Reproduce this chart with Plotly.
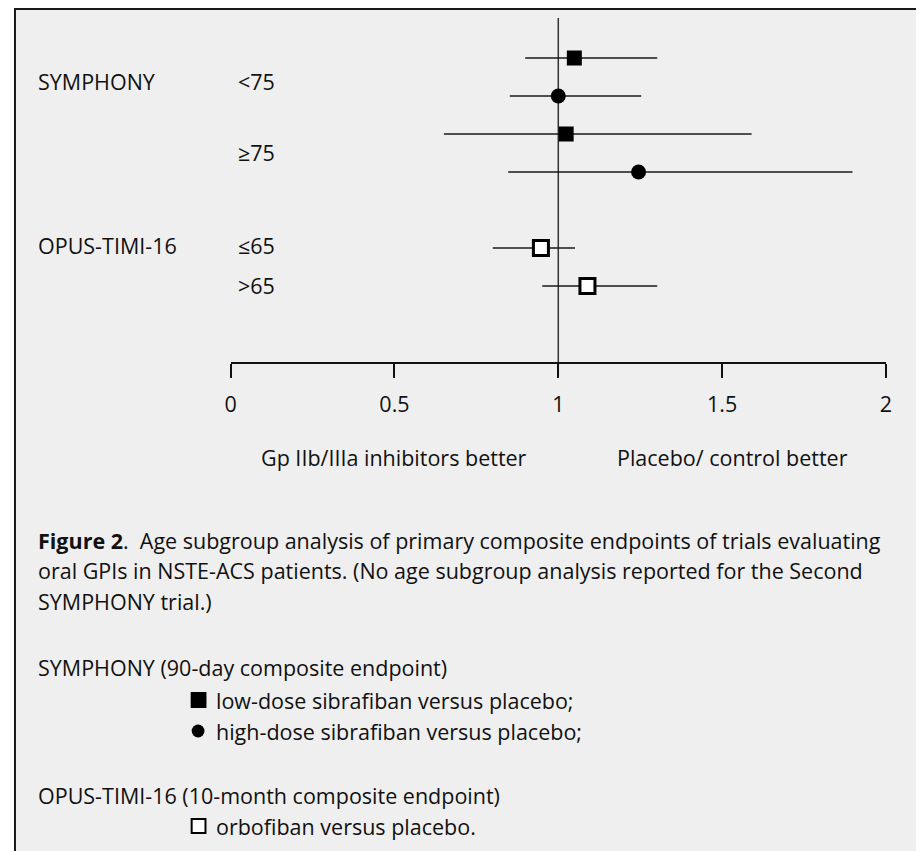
import plotly.graph_objects as go

W, H = 924, 851

# ---- data ----
low_or = [1.049, 1.024]
low_lo = [0.899, 0.651]
low_hi = [1.302, 1.59]
low_rows = [0, 2]

high_or = [1.0, 1.245]
high_lo = [0.852, 0.847]
high_hi = [1.253, 1.898]
high_rows = [1, 3]

orbo_or = [0.947, 1.089]
orbo_lo = [0.80, 0.951]
orbo_hi = [1.051, 1.302]
orbo_rows = [5, 6]

tick_vals = [0, 0.5, 1, 1.5, 2]
tick_text = ["0", "0.5", "1", "1.5", "2"]

FONT = "Open Sans"
FS = 21.5
TXT = "#111111"
OFF = 8  # page body margin


def px(x):
    return (x - OFF) / W


def py(y):
    return 1 - (y - OFF) / H


def err(vals, lo, hi):
    plus = [h - v for v, h in zip(vals, hi)]
    minus = [v - l for v, l in zip(vals, lo)]
    return dict(type="data", symmetric=False, array=plus, arrayminus=minus,
                color="#1a1a1a", thickness=1.5, width=0)


fig = go.Figure()
fig.add_trace(go.Scatter(x=low_or, y=low_rows, mode="markers",
                         marker=dict(symbol="square", size=15, color="black"),
                         error_x=err(low_or, low_lo, low_hi), showlegend=False))
fig.add_trace(go.Scatter(x=high_or, y=high_rows, mode="markers",
                         marker=dict(symbol="circle", size=15, color="black"),
                         error_x=err(high_or, high_lo, high_hi), showlegend=False))
fig.add_trace(go.Scatter(x=orbo_or, y=orbo_rows, mode="markers",
                         marker=dict(symbol="square", size=15, color="white",
                                     line=dict(color="black", width=3)),
                         error_x=err(orbo_or, orbo_lo, orbo_hi), showlegend=False))

shapes = [
    # panel background with border (top and left)
    dict(type="rect", xref="paper", yref="paper",
         x0=px(9), x1=px(960), y0=py(900), y1=py(9),
         fillcolor="#efefef", line=dict(color="#1a1a1a", width=2), layer="below"),
    # reference line at 1
    dict(type="line", xref="x", yref="paper", x0=1, x1=1,
         y0=py(376), y1=py(18), line=dict(color="#333333", width=1.5), layer="below"),
    # legend keys in caption
    dict(type="rect", xref="paper", yref="paper", x0=px(187), x1=px(203),
         y0=py(708), y1=py(692), fillcolor="black", line=dict(width=0)),
    dict(type="circle", xref="paper", yref="paper", x0=px(188), x1=px(201),
         y0=py(737.5), y1=py(724.5), fillcolor="black", line=dict(width=0)),
    dict(type="rect", xref="paper", yref="paper", x0=px(188), x1=px(202),
         y0=py(833), y1=py(819), fillcolor="white", line=dict(color="black", width=2)),
]

annotations = []


def ann(text, x, y, xanchor="left"):
    annotations.append(dict(text=text, x=px(x), y=py(y), xref="paper", yref="paper",
                            xanchor=xanchor, yanchor="middle", showarrow=False,
                            font=dict(family=FONT, size=FS, color=TXT)))


ann("SYMPHONY", 30, 82)
ann("&lt;75", 233, 82)
ann("\u226575", 233, 152)
ann("OPUS-TIMI-16", 30, 245)
ann("\u226465", 233, 245)
ann("&gt;65", 233, 285)

ann("Gp IIb/IIIa inhibitors better", 393, 457, "center")
ann("Placebo/ control better", 735.5, 457, "center")

ann("<b>Figure 2</b>.  Age subgroup analysis of primary composite endpoints of trials evaluating", 30, 540)
ann("oral GPIs in NSTE-ACS patients. (No age subgroup analysis reported for the Second", 30, 570)
ann("SYMPHONY trial.)", 30, 601)
ann("SYMPHONY (90-day composite endpoint)", 30, 667)
ann("low-dose sibrafiban versus placebo;", 211, 700)
ann("high-dose sibrafiban versus placebo;", 211, 731)
ann("OPUS-TIMI-16 (10-month composite endpoint)", 30, 795)
ann("orbofiban versus placebo.", 211, 826)

fig.update_layout(
    width=W, height=H,
    margin=dict(l=0, r=0, t=0, b=0),
    paper_bgcolor="white",
    plot_bgcolor="rgba(0,0,0,0)",
    shapes=shapes,
    annotations=annotations,
    xaxis=dict(domain=[px(227.5), px(891.4)], range=[0, 2],
               tickvals=tick_vals, ticktext=tick_text,
               ticks="outside", ticklen=14, tickwidth=1.5, tickcolor="#111111",
               showline=True, linecolor="#111111", linewidth=1.5,
               showgrid=False, zeroline=False, ticklabelstandoff=8,
               tickfont=dict(family=FONT, size=FS, color=TXT)),
    yaxis=dict(domain=[py(362), 1], range=[8, -1.316],
               showgrid=False, zeroline=False, showline=False,
               showticklabels=False, ticks=""),
)

fig.write_html("out.html")
